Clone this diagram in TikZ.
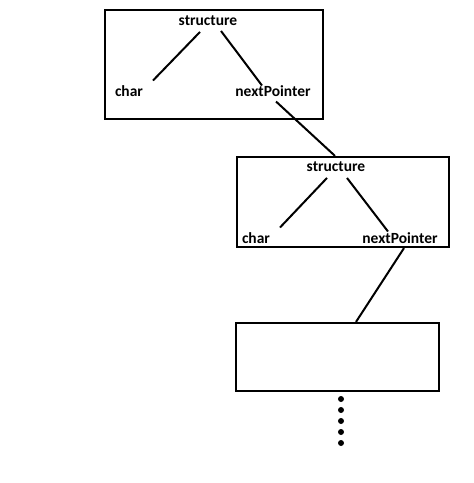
\documentclass[tikz,border=0pt]{standalone}
\usepackage{fontspec}
\setmainfont{Carlito}
\usepackage{tikz}
\usetikzlibrary{positioning}

\begin{document}
\begin{tikzpicture}[
    x = 1pt,
    y = -1pt,
    line width = 2pt,
    field/.style={inner sep=1pt, font=\fontsize{15.5}{18}\selectfont\bfseries},
    record/.style={draw, rectangle, line width=2.2pt, inner sep=0pt}
]
    \useasboundingbox (0,0) rectangle (474,483);

    % first record
    \node[record, minimum width=218pt, minimum height=109pt] (box1) at (214,64.5) {};
    \node[field] (s1) at (208,21) {structure};
    \node[field] (c1) at (129,91) {char};
    \node[field] (n1) at (273,91) {nextPointer};

    % second record
    \node[record, minimum width=212pt, minimum height=90pt] (box2) at (343,202) {};
    \node[field] (s2) at (336,167) {structure};
    \node[field] (c2) at (256,238) {char};
    \node[field] (n2) at (400,238) {nextPointer};

    % third record
    \node[record, minimum width=203pt, minimum height=68pt] (box3) at (337.5,357) {};

    \draw ([xshift=-8pt,yshift=-4pt]s1.south) -- ([xshift=24pt,yshift=3pt]c1.north);
    \draw ([xshift=13pt,yshift=-3pt]s1.south) -- ([xshift=-11pt,yshift=-2pt]n1.north);
    \draw ([xshift=3pt,yshift=-3pt]n1.south) -- ([xshift=-8pt]box2.north);

    \draw ([xshift=-9pt,yshift=-4pt]s2.south) -- ([xshift=24pt,yshift=3pt]c2.north);
    \draw ([xshift=11pt,yshift=-4pt]s2.south) -- ([xshift=-12pt,yshift=-1pt]n2.north);
    \draw ([xshift=61pt]box2.south) -- ([xshift=18.5pt]box3.north);

    % more records follow
    \foreach \i in {0,...,4}
        \fill (341,399+11*\i) circle (3pt);
\end{tikzpicture}
\end{document}
